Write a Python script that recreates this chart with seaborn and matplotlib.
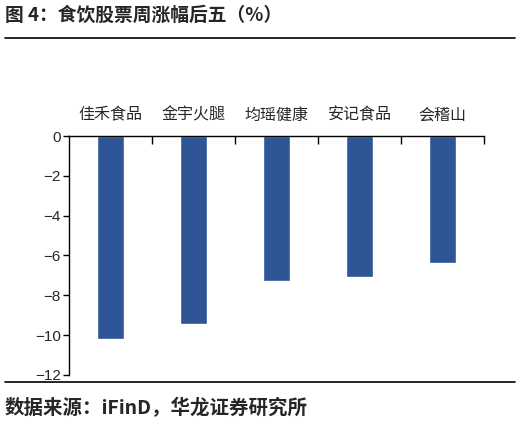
import matplotlib
matplotlib.use("Agg")
import matplotlib.pyplot as plt
import seaborn as sns
import pandas as pd
from matplotlib.lines import Line2D
from matplotlib.ticker import FixedLocator

# data
stocks = ["佳禾食品", "金宇火腿", "均瑶健康", "安记食品", "会稽山"]
weekly_change = [-10.18, -9.45, -7.27, -7.07, -6.36]
yticks = [0, -2, -4, -6, -8, -10, -12]

df = pd.DataFrame({"stock": stocks, "change": weekly_change})

sns.set_theme(style="white")
plt.rcParams["font.family"] = ["Noto Sans CJK SC", "DejaVu Sans"]
plt.rcParams["axes.unicode_minus"] = True

fig = plt.figure(figsize=(5.2, 4.23), dpi=100)
ax = fig.add_axes([69 / 520, 1 - 375 / 423, 415 / 520, 239 / 423])

sns.barplot(data=df, x="stock", y="change", color="#2E5596", width=0.33,
            saturation=1, ax=ax)

ax.set_xlim(-0.5, len(stocks) - 0.5)
ax.set_ylim(-12, 0)
ax.set_xlabel("")
ax.set_ylabel("")

# x axis sits at zero (top), labels above, ticks at category boundaries
ax.xaxis.tick_top()
ax.tick_params(axis="x", which="major", length=0, pad=9, labelsize=11.5)
ax.xaxis.set_minor_locator(FixedLocator([i + 0.5 for i in range(len(stocks))]))
ax.tick_params(axis="x", which="minor", direction="in", length=6, width=1,
               color="black", top=True, bottom=False)

ax.set_yticks(yticks)
ax.set_yticklabels([f"{v}".replace("-", "\u2212") for v in yticks],
                   family="Liberation Sans", fontsize=11)
ax.tick_params(axis="y", direction="out", length=4, width=1, color="black", left=True, pad=2)

for side in ["right", "bottom"]:
    ax.spines[side].set_visible(False)
for side in ["top", "left"]:
    ax.spines[side].set_color("black")
    ax.spines[side].set_linewidth(1)

# header and footer
fig.text(5 / 520, 1 - 15 / 423, "图 4：食饮股票周涨幅后五（%）", fontsize=13.5,
         fontweight="bold", va="center", ha="left")
fig.add_artist(Line2D([5 / 520, 515 / 520], [1 - 38 / 423] * 2, color="black", lw=1.2))
fig.add_artist(Line2D([5 / 520, 515 / 520], [1 - 382 / 423] * 2, color="black", lw=1.2))
fig.text(5 / 520, 1 - 408 / 423, "数据来源：iFinD，华龙证券研究所", fontsize=14,
         fontweight="bold", va="center", ha="left")

fig.savefig("out.png", dpi=100)
